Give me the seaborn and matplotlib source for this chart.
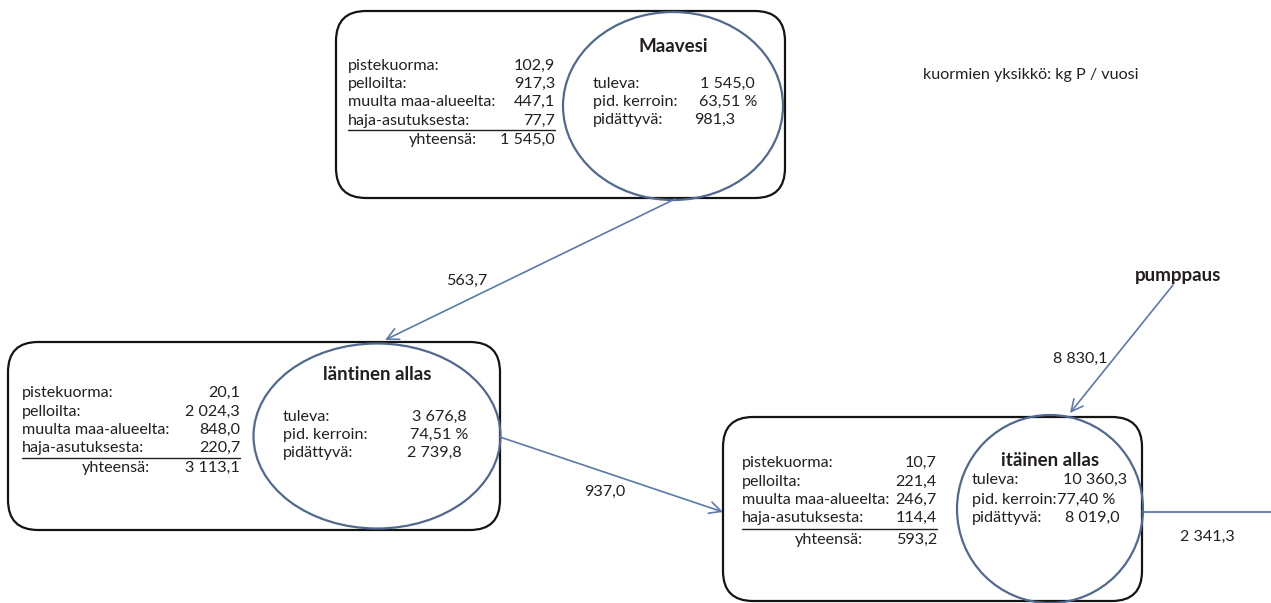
import matplotlib
matplotlib.use("Agg")
import matplotlib.pyplot as plt
import seaborn as sns
from matplotlib.patches import FancyBboxPatch, Ellipse

# --- data (kg P / vuosi) ---
basins = ["Maavesi", "läntinen allas", "itäinen allas"]
load_labels = ["pistekuorma:", "pelloilta:", "muulta maa-alueelta:", "haja-asutuksesta:"]
pistekuorma = [102.9, 20.1, 10.7]
pelloilta = [917.3, 2024.3, 221.4]
muulta = [447.1, 848.0, 246.7]
haja = [77.7, 220.7, 114.4]
yhteensa = [1545.0, 3113.1, 593.2]
lake_labels = ["tuleva:", "pid. kerroin:", "pidättyvä:"]
tuleva = [1545.0, 3676.8, 10360.3]
pid_kerroin = [63.51, 74.51, 77.40]
pidattyva = [981.3, 2739.8, 8019.0]
flow_labels = ["563,7", "937,0", "8 830,1", "2 341,3"]
unit_text = "kuormien yksikkö: kg P / vuosi"
pump_text = "pumppaus"


def fi(v, dec=1):
    s = f"{v:,.{dec}f}"
    return s.replace(",", " ").replace(".", ",")


# --- layout in pixel coords ---
boxes = [(336, 11, 785, 198), (8, 342, 500, 530), (723, 417, 1142, 601)]
ellipses = [(673, 106, 220, 188), (377, 436, 247, 185), (1050, 509, 186, 188)]
left_x = [348, 22, 742]
val_right = [555, 240, 937]
sum_right = [477, 150, 863]
rows = [[66, 84, 102, 121, 140], [393, 412, 430, 448, 468], [463, 482, 500, 518, 540]]
title_y = [46, 375, 460]
lake_x = [593, 283, 972]
lake_rows = [[84, 102, 120], [417, 435, 453], [480, 500, 518]]
lake_right = [[755, 757, 735], [467, 468, 462], [1127, 1115, 1120]]

sns.set_theme(style="white")
plt.rcParams["font.family"] = ["Lato", "DejaVu Sans"]
txt = "#231f20"
blue_line = "#5b7aa8"
blue_ell = "#52698f"
fs = 11.6
fs_title = 13.5

fig = plt.figure(figsize=(12.71, 6.03), dpi=100)
ax = fig.add_axes([0, 0, 1, 1])
ax.set_xlim(0, 1271)
ax.set_ylim(603, 0)
ax.axis("off")

for i in range(3):
    x0, y0, x1, y1 = boxes[i]
    ax.add_patch(FancyBboxPatch((x0, y0), x1 - x0, y1 - y0,
                                boxstyle="round,pad=0,rounding_size=30",
                                fc="none", ec="#141414", lw=1.6, zorder=2))
    cx, cy, w, h = ellipses[i]
    ax.add_patch(Ellipse((cx, cy), w, h, fc="none", ec=blue_ell, lw=1.6, zorder=3))

    vals = [pistekuorma[i], pelloilta[i], muulta[i], haja[i]]
    for j, (lab, v) in enumerate(zip(load_labels, vals)):
        ax.text(left_x[i], rows[i][j], lab, ha="left", va="center", fontsize=fs, color=txt)
        ax.text(val_right[i], rows[i][j], fi(v), ha="right", va="center", fontsize=fs, color=txt)
    uy = (rows[i][3] + rows[i][4]) / 2 - 0.5
    ax.plot([left_x[i], val_right[i]], [uy, uy], color=txt, lw=1.0)
    ax.text(sum_right[i], rows[i][4], "yhteensä:", ha="right", va="center", fontsize=fs, color=txt)
    ax.text(val_right[i], rows[i][4], fi(yhteensa[i]), ha="right", va="center", fontsize=fs, color=txt)

    ax.text(cx, title_y[i], basins[i], ha="center", va="center", fontsize=fs_title,
            fontweight="bold", color=txt)
    lvals = [fi(tuleva[i]), fi(pid_kerroin[i], 2) + " %", fi(pidattyva[i])]
    for j, (lab, v) in enumerate(zip(lake_labels, lvals)):
        ax.text(lake_x[i], lake_rows[i][j], lab, ha="left", va="center", fontsize=fs, color=txt)
        ax.text(lake_right[i][j], lake_rows[i][j], v, ha="right", va="center", fontsize=fs, color=txt)

arrow = dict(arrowstyle="->,head_length=0.7,head_width=0.35", color=blue_line, lw=1.2,
             shrinkA=0, shrinkB=0)
ax.annotate("", xy=(385, 340), xytext=(675, 199), arrowprops=arrow)
ax.annotate("", xy=(723, 512), xytext=(500, 437), arrowprops=arrow)
ax.annotate("", xy=(1070, 413), xytext=(1173, 285), arrowprops=arrow)
ax.plot([1142, 1271], [512, 512], color=blue_line, lw=1.3)

ax.text(467, 281, flow_labels[0], ha="center", va="center", fontsize=fs, color=txt)
ax.text(605, 492, flow_labels[1], ha="center", va="center", fontsize=fs, color=txt)
ax.text(1080, 359, flow_labels[2], ha="center", va="center", fontsize=fs, color=txt)
ax.text(1207, 537, flow_labels[3], ha="center", va="center", fontsize=fs, color=txt)
ax.text(1178, 275, pump_text, ha="center", va="center", fontsize=fs_title,
        fontweight="bold", color=txt)
ax.text(923, 75, unit_text, ha="left", va="center", fontsize=fs, color=txt)

fig.savefig("out.png", dpi=100)
